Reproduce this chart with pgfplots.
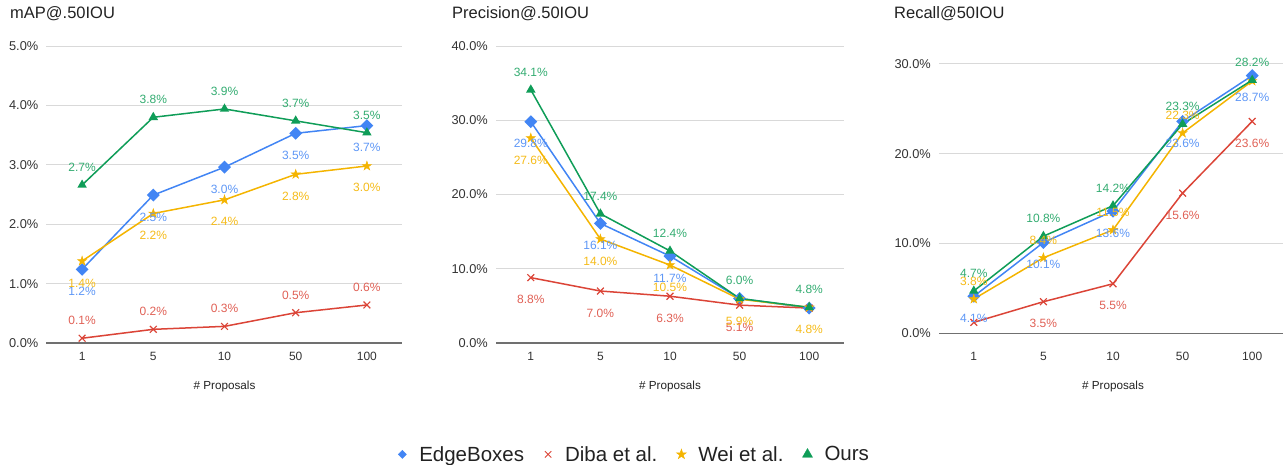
\documentclass[border=0pt]{standalone}
\usepackage{fontspec}
\setmainfont{Liberation Sans}
\usepackage{pgfplots}
\usepackage{pgfplotstable}
\pgfplotsset{compat=1.18}

\definecolor{cBlue}{HTML}{4285F4}
\definecolor{cRed}{HTML}{DB4437}
\definecolor{cYellow}{HTML}{F4B400}
\definecolor{cGreen}{HTML}{0F9D58}
\definecolor{cText}{HTML}{222222}
\definecolor{cGrid}{HTML}{D9D9D9}
\definecolor{cZero}{HTML}{707070}

\newcommand{\fs}[1]{\fontsize{#1pt}{#1pt}\selectfont}

% filled five-pointed star
\pgfdeclareplotmark{fstar}{%
  \pgfpathmoveto{\pgfqpoint{0pt}{\pgfplotmarksize}}%
  \pgfpathlineto{\pgfqpoint{-0.2245\pgfplotmarksize}{0.309\pgfplotmarksize}}%
  \pgfpathlineto{\pgfqpoint{-0.951\pgfplotmarksize}{0.309\pgfplotmarksize}}%
  \pgfpathlineto{\pgfqpoint{-0.363\pgfplotmarksize}{-0.118\pgfplotmarksize}}%
  \pgfpathlineto{\pgfqpoint{-0.588\pgfplotmarksize}{-0.809\pgfplotmarksize}}%
  \pgfpathlineto{\pgfqpoint{0pt}{-0.382\pgfplotmarksize}}%
  \pgfpathlineto{\pgfqpoint{0.588\pgfplotmarksize}{-0.809\pgfplotmarksize}}%
  \pgfpathlineto{\pgfqpoint{0.363\pgfplotmarksize}{-0.118\pgfplotmarksize}}%
  \pgfpathlineto{\pgfqpoint{0.951\pgfplotmarksize}{0.309\pgfplotmarksize}}%
  \pgfpathlineto{\pgfqpoint{0.2245\pgfplotmarksize}{0.309\pgfplotmarksize}}%
  \pgfpathclose
  \pgfusepathqfillstroke
}

% x: 0..4 stand for 1, 5, 10, 50, 100 proposals
% ---- mAP@.50IOU (%)
\pgfplotstableread{
x y
0 1.24
1 2.49
2 2.96
3 3.53
4 3.66
}\mapEdge
\pgfplotstableread{
x y
0 0.08
1 0.23
2 0.28
3 0.51
4 0.64
}\mapDiba
\pgfplotstableread{
x y
0 1.38
1 2.18
2 2.41
3 2.84
4 2.98
}\mapWei
\pgfplotstableread{
x y
0 2.66
1 3.80
2 3.94
3 3.74
4 3.54
}\mapOurs
% ---- Precision@.50IOU (%)
\pgfplotstableread{
x y
0 29.8
1 16.1
2 11.7
3 6.0
4 4.7
}\preEdge
\pgfplotstableread{
x y
0 8.8
1 7.0
2 6.3
3 5.1
4 4.7
}\preDiba
\pgfplotstableread{
x y
0 27.6
1 14.0
2 10.5
3 5.9
4 4.8
}\preWei
\pgfplotstableread{
x y
0 34.1
1 17.4
2 12.4
3 6.0
4 4.8
}\preOurs
% ---- Recall@50IOU (%)
\pgfplotstableread{
x y
0 4.1
1 10.1
2 13.6
3 23.6
4 28.7
}\recEdge
\pgfplotstableread{
x y
0 1.2
1 3.5
2 5.5
3 15.6
4 23.6
}\recDiba
\pgfplotstableread{
x y
0 3.8
1 8.4
2 11.5
3 22.3
4 28.1
}\recWei
\pgfplotstableread{
x y
0 4.7
1 10.8
2 14.2
3 23.3
4 28.2
}\recOurs

\pgfplotsset{
  panel/.style={
    scale only axis, height=297pt,
    xmin=-0.5, xmax=4.5,
    xtick={0,...,4}, xticklabels={1,5,10,50,100},
    axis line style={draw=none},
    major tick length=0pt,
    ymajorgrids, major grid style={cGrid, line width=0.9pt},
    /pgf/number format/assume math mode=true,
    tick label style={text=black!80, font=\fs{12}},
    yticklabel={\pgfmathprintnumber[fixed,fixed zerofill,precision=1]{\tick}\%},
    yticklabel style={font=\fs{12.8}, anchor=east, inner sep=0pt, xshift=-8pt},
    xticklabel style={anchor=base, inner sep=0pt, yshift=-17.5pt},
    extra y ticks={0},
    extra y tick style={major grid style={cZero, line width=1.1pt}},
    xlabel={\# Proposals},
    xlabel style={font=\fs{11.7}, text=cText, at={(axis description cs:0.5,-0.148)}, anchor=center},
    clip=false,
  },
  % value labels: colour, vertical offset of the baseline
  labs/.style 2 args={
    draw=none, mark=none, forget plot,
    point meta=y,
    nodes near coords={\pgfmathprintnumber[fixed,fixed zerofill,precision=1]{\pgfplotspointmeta}\%},
    nodes near coords style={font=\fs{12}, text=#1, anchor=base, inner sep=0pt, yshift=#2},
  },
  sEdge/.style={line width=1.5pt, color=cBlue, mark=square*, mark size=3.8pt,
    mark options={solid, rotate=45, fill=cBlue, draw=cBlue}},
  sDiba/.style={line width=1.5pt, color=cRed, mark=x, mark size=4.8pt,
    mark options={solid, line width=1.2pt}},
  sWei/.style={line width=1.5pt, color=cYellow, mark=fstar, mark size=4.8pt,
    mark options={solid, fill=cYellow, draw=cYellow, line width=0.5pt}},
  sOurs/.style={line width=1.5pt, color=cGreen, mark=triangle*, mark size=4pt,
    mark options={solid, fill=cGreen, draw=cGreen}},
}

\begin{document}
\begin{tikzpicture}

% ---------- mAP ----------
\begin{axis}[panel, at={(46.5pt,122pt)}, anchor=south west, width=356pt,
  ymin=0, ymax=5, ytick={1,2,3,4,5}]
  \addplot[sEdge] table[x=x,y=y] {\mapEdge};
  \addplot[sDiba] table[x=x,y=y] {\mapDiba};
  \addplot[sWei] table[x=x,y=y] {\mapWei};
  \addplot[sOurs] table[x=x,y=y] {\mapOurs};
  \addplot[labs={cBlue!85!white}{-26pt}] table[x=x,y=y] {\mapEdge};
  \addplot[labs={cRed!85!white}{13.5pt}] table[x=x,y=y] {\mapDiba};
  \addplot[labs={cYellow!90!white}{-26pt}] table[x=x,y=y] {\mapWei};
  \addplot[labs={cGreen!85!white}{13.5pt}] table[x=x,y=y] {\mapOurs};
\end{axis}

% ---------- Precision ----------
\begin{axis}[panel, at={(496pt,122pt)}, anchor=south west, width=348pt,
  ymin=0, ymax=40, ytick={10,20,30,40},
  legend columns=4,
  legend style={at={(0.394,-0.375)}, anchor=center, draw=none, fill=none,
    font=\fs{20.5}, text=cText, nodes={inner sep=0pt},
    /tikz/every odd column/.append style={column sep=12pt},
    /tikz/every even column/.append style={column sep=19pt}},
  legend image code/.code={%
    \path[draw=none, fill=none] (-5pt,-4pt) rectangle (5pt,4pt);
    \draw[#1] plot coordinates {(0pt,0pt)};}]
  \addplot[sEdge, forget plot] table[x=x,y=y] {\preEdge};
  \addplot[sDiba, forget plot] table[x=x,y=y] {\preDiba};
  \addplot[sWei, forget plot] table[x=x,y=y] {\preWei};
  \addplot[sOurs, forget plot] table[x=x,y=y] {\preOurs};
  \addplot[labs={cBlue!85!white}{-26pt}, skip coords between index={3}{5}] table[x=x,y=y] {\preEdge};
  \addplot[labs={cRed!85!white}{-26pt}, skip coords between index={4}{5}] table[x=x,y=y] {\preDiba};
  \addplot[labs={cYellow!90!white}{-26pt}] table[x=x,y=y] {\preWei};
  \addplot[labs={cGreen!85!white}{13.5pt}] table[x=x,y=y] {\preOurs};
  \addlegendimage{only marks, mark=square*, mark size=2.9pt, mark options={rotate=45, fill=cBlue, draw=cBlue}}
  \addlegendentry{EdgeBoxes}
  \addlegendimage{only marks, mark=x, mark size=4.5pt, mark options={draw=cRed, line width=1pt}}
  \addlegendentry{Diba et al.}
  \addlegendimage{only marks, mark=fstar, mark size=5.2pt, mark options={fill=cYellow, draw=cYellow, line width=0.5pt}}
  \addlegendentry{Wei et al.}
  \addlegendimage{only marks, mark=triangle*, mark size=5.8pt, mark options={fill=cGreen, draw=cGreen}}
  \addlegendentry{Ours}
\end{axis}

% ---------- Recall ----------
\begin{axis}[panel, at={(939pt,122pt)}, anchor=south west, width=348pt,
  ymin=-1.1, ymax=32, ytick={10,20,30}]
  \addplot[sEdge] table[x=x,y=y] {\recEdge};
  \addplot[sDiba] table[x=x,y=y] {\recDiba};
  \addplot[sWei] table[x=x,y=y] {\recWei};
  \addplot[sOurs] table[x=x,y=y] {\recOurs};
  \addplot[labs={cBlue!85!white}{-26pt}] table[x=x,y=y] {\recEdge};
  \addplot[labs={cRed!85!white}{-26pt}, skip coords between index={0}{1}] table[x=x,y=y] {\recDiba};
  \addplot[labs={cYellow!90!white}{13.5pt}, skip coords between index={4}{5}] table[x=x,y=y] {\recWei};
  \addplot[labs={cGreen!85!white}{13.5pt}] table[x=x,y=y] {\recOurs};
\end{axis}

% panel titles
\node[anchor=base west, inner sep=0pt, font=\fs{16.5}, text=cText] at (10pt,446pt) {mAP@.50IOU};
\node[anchor=base west, inner sep=0pt, font=\fs{16.5}, text=cText] at (452pt,446pt) {Precision@.50IOU};
\node[anchor=base west, inner sep=0pt, font=\fs{16.5}, text=cText] at (894pt,446pt) {Recall@50IOU};

\pgfresetboundingbox
\path[use as bounding box] (0pt,0pt) rectangle (1283pt,465pt);
\end{tikzpicture}
\end{document}
